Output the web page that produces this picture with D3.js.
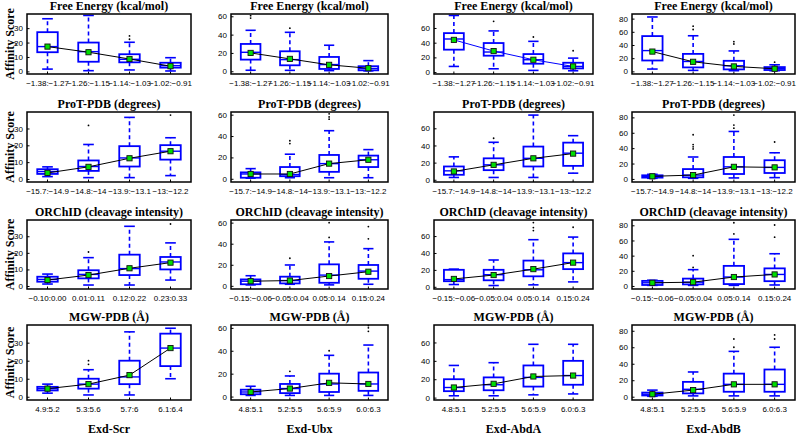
<!DOCTYPE html>
<html><head><meta charset="utf-8">
<script src="https://cdn.jsdelivr.net/npm/d3@7"></script>
<style>body{margin:0;background:#fff}svg{display:block}</style>
</head><body>
<svg id="c" width="797" height="437"></svg>
<script>
// ---------- DATA ----------
const proteins = ["Exd-Scr", "Exd-Ubx", "Exd-AbdA", "Exd-AbdB"];
const features = ["Free Energy (kcal/mol)", "ProT-PDB (degrees)", "ORChID (cleavage intensity)", "MGW-PDB (Å)"];
// y tick values per protein column
const yTicks = [[0,10,20,30],[0,20,40,60],[0,20,40,60],[0,20,40,60,80]];
const yDomains = [[-1.8,39.8],[-3,62.5],[-2.6,79],[-4,87]];
// bin labels
const freeEnergyBins = ["−1.38:−1.27","−1.26:−1.15","−1.14:−1.03","−1.02:−0.91"];
const protBins = ["−15.7:−14.9","−14.8:−14","−13.9:−13.1","−13:−12.2"];
const orchidBinsScr = ["−0.10:0.00","0.01:0.11","0.12:0.22","0.23:0.33"];
const orchidBins = ["−0.15:−0.06","−0.05:0.04","0.05:0.14","0.15:0.24"];
const mgwBinsScr = ["4.9:5.2","5.3:5.6","5.7:6","6.1:6.4"];
const mgwBins = ["4.8:5.1","5.2:5.5","5.6:5.9","6.0:6.3"];

// box stats: [whiskerLow, q1, median, q3, whiskerHigh, mean] per bin, per protein column
const freeEnergyStats = [
  [[1.6,13.3,17.2,27.2,36.5,17.2],[0.5,6.7,13.7,20,38.8,13.3],[1,6.3,8.4,11.9,20.2,8.6],[0.3,2.6,4,6,9.5,3.6]],
  [[1.1,12.7,20.7,29.8,44.7,20],[1,6.5,12.7,21.8,42.5,13.5],[0.7,2.5,7.3,15.6,28.4,7],[0.4,1,3,5.5,11.6,3.3]],
  [[7.7,30.5,45,53,77,43.8],[4.5,22.3,27.3,39.5,56,28.6],[2.3,11.4,16.8,24.5,41.8,16.8],[1.8,5,7.7,12.7,19,7.7]],
  [[3.5,16.5,31.5,53.5,82.5,30],[1.5,6,15,26.5,54,14.5],[1,3,8.5,16,31,7.5],[1,2,4,6.5,10,4]]
];
const freeEnergyOutliers = [
  [[],[],[22.3,24.6],[]],
  [[58,60.7],[47],[],[]],
  [[],[69],[47.7],[29]],
  [[],[63.5,68.5],[41.5,45],[14]]
];
const protStats = [
  [[1.4,3,4.4,5.8,7.2,3.6],[0.8,4.8,7.4,11,20.5,7.2],[0.8,7.4,12.5,19.5,36.6,12.3],[2,11.5,16.5,20.1,24.5,16.5]],
  [[0.6,1,4.5,6,9.5,4.5],[1,2.4,4,11,23,4.5],[1,6.5,14.2,22.3,45,14.2],[1,11,17.8,21.7,27.3,17.8]],
  [[2.7,5.8,10.4,15.5,26.7,9.7],[2.7,11.2,17.4,25,43.7,17.4],[2.7,15.5,25,38.7,75.4,25],[7.7,16.2,31,43.3,51.4,30.5]],
  [[0.8,1.7,3.4,4.7,6,3.4],[0.8,2.1,5,12.8,28.5,5],[1.3,6.4,15.7,28.5,61.7,15.7],[1.7,7.7,15,24.3,34,15]]
];
const protOutliers = [
  [[],[31.8],[],[38]],
  [[],[33,35.6],[55.8,57.9,60.8],[]],
  [[],[48.4],[],[]],
  [[],[39,41.7,44.7,57.4],[66,70,83],[48]]
];
const orchidStats = [
  [[1.2,2.6,4,5.6,7.2,3.6],[0.6,4.6,7,9.5,17.1,6.6],[0.6,6.6,10.5,18.9,36,10.7],[3.6,10,14.5,17.5,26,14.1]],
  [[0.9,1.5,4.4,6.1,9.6,4.4],[1.5,2.3,5,8.7,19.8,5],[0.9,2.9,10.2,20.4,41.7,9.3],[1.5,6.7,14,19.8,35.3,13.4]],
  [[2.7,6.6,8.5,20.1,20.9,9.3],[1.5,7.7,14.3,20.1,31.7,13.9],[2.3,12.4,20.1,31,55.7,20.9],[5.8,20.9,28.6,39.5,58.8,28.6]],
  [[0.8,1.3,4.2,6.7,7.6,4.2],[0.8,2.1,5,9.7,21.5,5],[0.8,2.5,11.8,26.5,61.5,11.8],[1.3,6.3,15.2,23.2,42.5,15.2]]
];
const orchidOutliers = [
  [[],[20.5],[],[37.4]],
  [[],[26.2],[46,60],[44.6,56.3]],
  [[],[],[66.5,70,76],[70.4]],
  [[],[24.4,40],[68.6,83.4],[64.4,80.4]]
];
const mgwStats = [
  [[2,3.5,4.5,5.5,7,4.5],[1,4.5,7,10,15,7],[1,7,11,20,36,12],[10,17,27,35,38,27]],
  [[1,2,4,6,9,4],[1,3,7,11,18,7],[1,4,11,20,36,12],[1,5,11,21,45,11]],
  [[2,7,11,20,35,11],[2,8,14,22,38,15],[3,12,22,35,58,23],[4,14,24,40,58,24]],
  [[0.5,1.5,3,5,8,3],[1,4,9,18,30,8],[1,6,15,28,55,15],[1,6,15,33,60,15]]
];
const mgwOutliers = [
  [[],[18,20],[],[]],
  [[],[22],[40],[57,60,62]],
  [[],[],[],[]],
  [[],[],[60,70],[70,75]]
];

// ---------- LAYOUT ----------
const stats = [freeEnergyStats, protStats, orchidStats, mgwStats];
const outliers = [freeEnergyOutliers, protOutliers, orchidOutliers, mgwOutliers];
const bins = [
  [freeEnergyBins, freeEnergyBins, freeEnergyBins, freeEnergyBins],
  [protBins, protBins, protBins, protBins],
  [orchidBinsScr, orchidBins, orchidBins, orchidBins],
  [mgwBinsScr, mgwBins, mgwBins, mgwBins]
];
const colX = [[27,191],[231,388],[434,593],[632,795]];
const rowY = [[14,74],[112,182],[220,289],[325,400]];
const blue = "#0000ff";
const serif = "Times New Roman, Liberation Serif, DejaVu Serif, serif";
const sans = "Liberation Sans, Arial, sans-serif";

const svg = d3.select("#c");

for (let r = 0; r < 4; r++) {
  for (let c = 0; c < 4; c++) {
    const [x0, x1] = colX[c];
    const [y0, y1] = rowY[r];
    const x = d3.scaleBand().domain(d3.range(4)).range([x0, x1]);
    const bw = x.bandwidth();
    const cx = i => x(i) + bw / 2;
    const y = d3.scaleLinear().domain(yDomains[c]).range([y1, y0]);
    const g = svg.append("g");
    const data = stats[r][c];
    const outs = outliers[r][c];
    const lineColor = (r === 0 && c === 2) ? blue : "#000";

    g.append("text").attr("x", (x0 + x1) / 2).attr("y", y0 - 4)
      .attr("text-anchor", "middle").style("font-family", serif)
      .attr("font-weight", "bold").attr("font-size", 12).text(features[r]);

    const ya = g.append("g").attr("transform", `translate(${x0},0)`)
      .call(d3.axisLeft(y).tickValues(yTicks[c]).tickSize(-2.5).tickPadding(4).tickFormat(d3.format("d")));
    ya.select(".domain").remove();
    ya.selectAll("text").style("font-family", sans).attr("font-size", 8).attr("fill", "#000");
    ya.selectAll("line").attr("stroke", "#000");
    const xa = g.append("g").attr("transform", `translate(0,${y1})`)
      .call(d3.axisBottom(x).tickSize(-2.5).tickPadding(6).tickFormat(i => bins[r][c][i]));
    xa.select(".domain").remove();
    xa.selectAll("text").style("font-family", sans).attr("font-size", 8).attr("fill", "#000");
    xa.selectAll("line").attr("stroke", "#000");

    const bg = g.selectAll(".bx").data(data).join("g");
    bg.append("line").attr("x1", (d, i) => cx(i)).attr("x2", (d, i) => cx(i))
      .attr("y1", d => y(d[3])).attr("y2", d => y(d[4]))
      .attr("stroke", blue).attr("stroke-width", 1.6).attr("stroke-dasharray", "4,3");
    bg.append("line").attr("x1", (d, i) => cx(i)).attr("x2", (d, i) => cx(i))
      .attr("y1", d => y(d[1])).attr("y2", d => y(d[0]))
      .attr("stroke", blue).attr("stroke-width", 1.6).attr("stroke-dasharray", "4,3");
    [0, 4].forEach(k => {
      bg.append("line").attr("x1", (d, i) => cx(i) - bw * 0.13).attr("x2", (d, i) => cx(i) + bw * 0.13)
        .attr("y1", d => y(d[k])).attr("y2", d => y(d[k]))
        .attr("stroke", blue).attr("stroke-width", 1.6);
    });
    bg.append("rect").attr("x", (d, i) => cx(i) - bw * 0.25).attr("width", bw * 0.5)
      .attr("y", d => y(d[3])).attr("height", d => Math.max(1, y(d[1]) - y(d[3])))
      .attr("fill", "none").attr("stroke", blue).attr("stroke-width", 1.8);
    bg.append("line").attr("x1", (d, i) => cx(i) - bw * 0.25).attr("x2", (d, i) => cx(i) + bw * 0.25)
      .attr("y1", d => y(d[2])).attr("y2", d => y(d[2]))
      .attr("stroke", blue).attr("stroke-width", 1.4);
    outs.forEach((arr, i) => {
      g.selectAll(null).data(arr).join("circle")
        .attr("cx", cx(i)).attr("cy", v => y(v)).attr("r", 0.9).attr("fill", "#000");
    });
    g.append("path").datum(data)
      .attr("d", d3.line().x((d, i) => cx(i)).y(d => y(d[5])))
      .attr("fill", "none").attr("stroke", lineColor).attr("stroke-width", 1);
    g.selectAll(null).data(data).join("rect")
      .attr("x", (d, i) => cx(i) - 2.6).attr("y", d => y(d[5]) - 2.6)
      .attr("width", 5.2).attr("height", 5.2)
      .attr("fill", "#00dd00").attr("stroke", "#111").attr("stroke-width", 0.9);

    g.append("rect").attr("x", x0).attr("y", y0).attr("width", x1 - x0).attr("height", y1 - y0)
      .attr("fill", "none").attr("stroke", "#000").attr("stroke-width", 1.5);
  }
}

for (let r = 0; r < 4; r++) {
  const [y0, y1] = rowY[r];
  svg.append("text").attr("transform", `translate(14,${(y0 + y1) / 2}) rotate(-90)`)
    .attr("text-anchor", "middle").style("font-family", serif).attr("font-weight", "bold")
    .attr("font-size", 12).text("Affinity Score");
}
proteins.forEach((p, c) => {
  svg.append("text").attr("x", (colX[c][0] + colX[c][1]) / 2).attr("y", 433)
    .attr("text-anchor", "middle").style("font-family", serif).attr("font-weight", "bold")
    .attr("font-size", 12).text(p);
});
</script>
</body></html>
